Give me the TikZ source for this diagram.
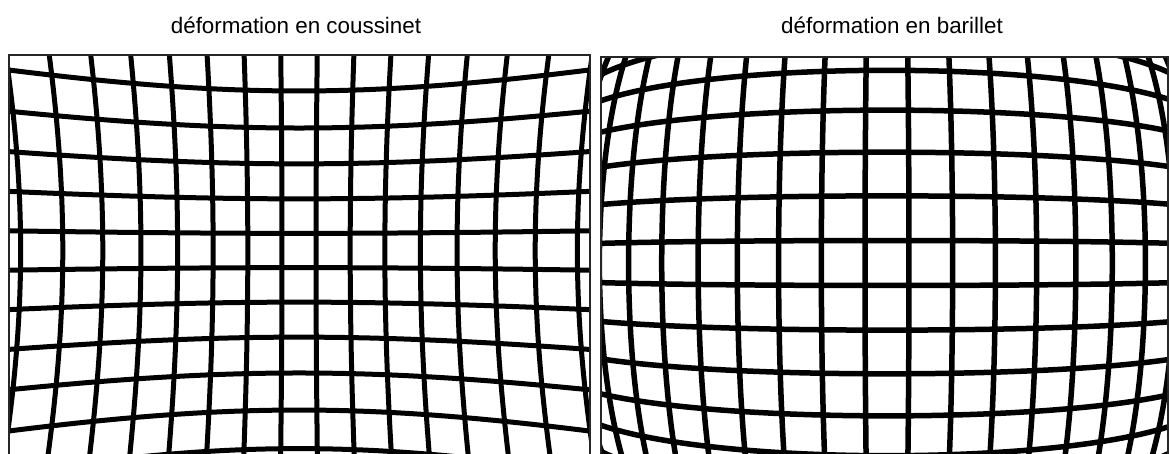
\documentclass[tikz,border=0pt]{standalone}
\usepackage{fontspec}
\setmainfont{Liberation Sans}
\begin{document}
\begin{tikzpicture}[x=1pt,y=-1pt,
  gridline/.style={line width=5pt, black, line join=round},
  frame/.style={line width=1.2pt, black!85},
  title/.style={font=\fontsize{22.4}{26}\selectfont, anchor=base, inner sep=0pt}]
\useasboundingbox (0,0) rectangle (1171,454);
\fill[white] (0,0) rectangle (1171,454);
\node[title] (t1) at (296,33.3) {déformation en coussinet};
\node[title] (t2) at (892,33.3) {déformation en barillet};
% left panel: pincushion
\begin{scope}
\clip (9,55) rectangle (590,470);
\foreach \m in {-6.5,-5.5,...,6.5}{
  \draw[gridline] plot[smooth, domain=-3.3:3.3, samples=45, variable=\t]
   ({299+100*\t*(1+0.0141*\t*\t+0.021*(\m*0.343)^2)},
    {250.5+100*(\m*0.343)*(1+0.0141*(\m*0.343)^2+0.021*\t*\t)});
}
\foreach \n in {-8.5,-7.5,...,8.5}{
  \draw[gridline] plot[smooth, domain=-2.6:2.6, samples=41, variable=\t]
   ({299+100*(\n*0.34)*(1+0.0141*(\n*0.34)^2+0.021*\t*\t)},
    {250.5+100*\t*(1+0.0141*\t*\t+0.021*(\n*0.34)^2)});
}
\end{scope}
% right panel: barrel
\begin{scope}
\clip (601,57) rectangle (1168,470);
\foreach \m in {-6.5,-5.5,...,6.5}{
  \draw[gridline, line width=5.5pt] plot[smooth, domain=-4:4, samples=49, variable=\t]
   ({887+100*\t*(1-0.0118*(\t*\t+(\m*0.45)^2))},
    {263+100*(\m*0.45)*(1-0.0118*(\t*\t+(\m*0.45)^2))});
}
\foreach \n in {-8.5,-7.5,...,8.5}{
  \draw[gridline, line width=5.5pt] plot[smooth, domain=-3.3:3.3, samples=41, variable=\t]
   ({887+100*(\n*0.44)*(1-0.0118*(\t*\t+(\n*0.44)^2))},
    {263+100*\t*(1-0.0118*(\t*\t+(\n*0.44)^2))});
}
\end{scope}
\draw[frame] (9,55) rectangle (590,470);
\draw[frame] (601,57) rectangle (1168,470);
\end{tikzpicture}
\end{document}
